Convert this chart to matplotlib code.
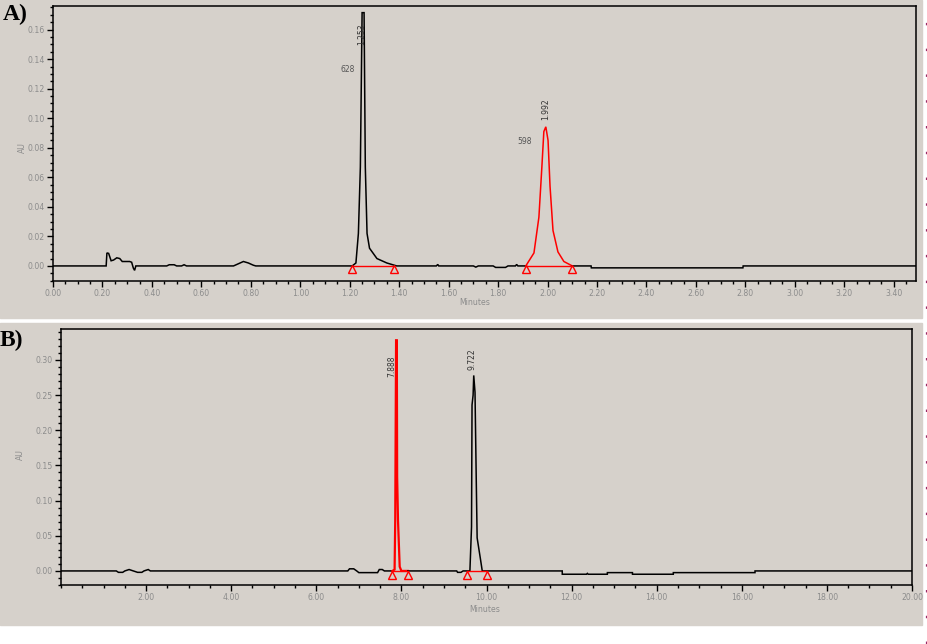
import matplotlib
matplotlib.use("Agg")
import matplotlib.pyplot as plt
from matplotlib.patches import Rectangle
from matplotlib.lines import Line2D
from matplotlib.ticker import MultipleLocator, FixedLocator, FormatStrFormatter

# --- panel A data (time in minutes, absorbance in AU) ---
a_t_black = [0.00, 0.215, 0.218, 0.225, 0.235, 0.245, 0.258, 0.27, 0.28, 0.31, 0.318,
             0.325, 0.33, 0.335, 0.46, 0.47, 0.49, 0.50, 0.52, 0.53, 0.54, 0.73, 0.75,
             0.77, 0.79, 0.81, 0.82, 1.21, 1.225, 1.235, 1.243, 1.25, 1.258, 1.263,
             1.27, 1.28, 1.31, 1.35, 1.39, 1.55, 1.556, 1.56, 1.70, 1.71, 1.72, 1.78,
             1.79, 1.83, 1.84, 1.87, 1.875, 1.88, 1.912]
a_y_black = [0.0, 0.0, 0.0088, 0.0085, 0.0035, 0.004, 0.0055, 0.005, 0.003, 0.003, 0.0025,
             -0.0015, -0.003, 0.0, 0.0, 0.0008, 0.0008, 0.0, 0.0, 0.0008, 0.0, 0.0, 0.0015,
             0.003, 0.002, 0.0005, 0.0, 0.0, 0.002, 0.022, 0.067, 0.1715, 0.1715, 0.067,
             0.022, 0.012, 0.005, 0.002, 0.0, 0.0, 0.001, 0.0, 0.0, -0.0008, 0.0, 0.0,
             -0.001, -0.001, 0.0, 0.0, 0.001, 0.0, 0.0]
a_t_red = [1.912, 1.945, 1.965, 1.977, 1.985, 1.993, 2.002, 2.010, 2.022, 2.042, 2.066, 2.10]
a_y_red = [0.0, 0.0088, 0.033, 0.067, 0.091, 0.0942, 0.085, 0.054, 0.024, 0.0095, 0.003, 0.0]
a_t_tail = [2.10, 2.176, 2.177, 2.79, 2.791, 3.49]
a_y_tail = [0.0, 0.0, -0.0013, -0.0013, 0.0, 0.0]
a_marks = [(1.21, 1.38), (1.912, 2.10)]
a_labels = [(1.192, 0.133, "628", 0), (1.249, 0.157, "1.253", 90),
            (1.993, 0.106, "1.992", 90), (1.906, 0.084, "598", 0)]

# --- panel B data ---
b_t_black = [0.0, 1.3, 1.35, 1.45, 1.5, 1.6, 1.7, 1.8, 1.9, 1.95, 2.05, 2.1, 6.74, 6.78,
             6.88, 6.95, 7.0, 7.44, 7.48, 7.55, 7.6, 7.79]
b_y_black = [0.0, 0.0, -0.002, -0.002, 0.0, 0.002, 0.0, -0.002, -0.002, 0.0, 0.002, 0.0,
             0.0, 0.003, 0.003, 0.0, -0.0024, -0.0024, 0.002, 0.002, 0.0, 0.0]
b_t_red = [7.79, 7.84, 7.855, 7.875, 7.892, 7.90, 7.92, 7.96, 8.0, 8.15]
b_y_red = [0.0, 0.002, 0.072, 0.328, 0.328, 0.134, 0.072, 0.006, 0.0, 0.0]
b_t_tail = [8.15, 9.3, 9.32, 9.4, 9.45, 9.61, 9.648, 9.66, 9.685, 9.70, 9.73, 9.76, 9.78,
            9.86, 9.90, 11.78, 11.781, 12.35, 12.37, 12.39, 12.84, 12.841, 13.43, 13.431,
            14.39, 14.391, 16.31, 16.311, 20.0]
b_y_tail = [0.0, 0.0, -0.002, -0.002, 0.0, 0.0, 0.0625, 0.236, 0.25, 0.278, 0.254, 0.126,
            0.047, 0.016, 0.0, 0.0, -0.0047, -0.0047, -0.0035, -0.0047, -0.0047, -0.0024,
            -0.0024, -0.0047, -0.0047, -0.0024, -0.0024, 0.0, 0.0]
b_marks = [(7.79, 8.15), (9.545, 10.0)]
b_labels = [(7.77, 0.291, "7.888", 90), (9.65, 0.301, "9.722", 90)]

bg = "#d6d1cb"
tick_gray = "#8c8c8c"

fig = plt.figure(figsize=(9.28, 6.44), dpi=100)
fig.patch.set_facecolor("white")

# gray panels behind each chromatogram
fig.patches.append(Rectangle((0, 1 - 318 / 644), 922 / 928, 318 / 644,
                             transform=fig.transFigure, color=bg, zorder=-5))
fig.patches.append(Rectangle((0, 1 - 625 / 644), 922 / 928, 302 / 644,
                             transform=fig.transFigure, color=bg, zorder=-5))
# dotted border on the right
fig.lines.append(Line2D([927 / 928, 927 / 928], [0, 1], transform=fig.transFigure,
                        color="#9a2a66", lw=1.6, dashes=(1.1, 10.5)))

axA = fig.add_axes([53 / 928, 1 - 281 / 644, 863 / 928, 275 / 644])
axB = fig.add_axes([61 / 928, 1 - 585 / 644, 851 / 928, 256 / 644])


def style(ax):
    ax.set_facecolor(bg)
    for s in ax.spines.values():
        s.set_linewidth(1.1)
        s.set_color("black")
    ax.tick_params(which="major", direction="out", length=4, width=1, color="black",
                   labelsize=5.6, labelcolor=tick_gray, pad=2)
    ax.tick_params(which="minor", direction="out", length=2.5, width=1, color="black")
    ax.tick_params(top=False, right=False)


def draw(ax, segs, marks, labels, ymark):
    for t, y, c, lw in segs:
        ax.plot(t, y, color=c, lw=lw, solid_joinstyle="miter")
    for t0, t1 in marks:
        ax.plot([t0, t1], [0, 0], color="red", lw=1.0)
        ax.plot([t0, t1], [ymark, ymark], ls="none", marker="^", ms=5.5,
                mfc="none", mec="red", mew=1.0)
    for t, y, s, rot in labels:
        ax.text(t, y, s, rotation=rot, ha="center", va="center", fontsize=5.5,
                color="#333333" if rot else "#555555")


# panel A
style(axA)
draw(axA, [(a_t_black, a_y_black, "black", 1.1), (a_t_red, a_y_red, "red", 1.1),
           (a_t_tail, a_y_tail, "black", 1.1)], a_marks, a_labels, -0.0018)
axA.set_xlim(0, 3.49)
axA.set_ylim(-0.0102, 0.176)
axA.xaxis.set_major_locator(MultipleLocator(0.2))
axA.xaxis.set_minor_locator(MultipleLocator(0.05))
axA.yaxis.set_major_locator(MultipleLocator(0.02))
axA.yaxis.set_minor_locator(MultipleLocator(0.005))
axA.xaxis.set_major_formatter(FormatStrFormatter("%.2f"))
axA.yaxis.set_major_formatter(FormatStrFormatter("%.2f"))
axA.set_xlabel("Minutes", fontsize=5.6, color=tick_gray)
axA.xaxis.set_label_coords(0.489, -0.062)
axA.set_ylabel("AU", fontsize=5.6, color=tick_gray)
axA.yaxis.set_label_coords(-0.030, 0.484)

# panel B
style(axB)
draw(axB, [(b_t_black, b_y_black, "black", 1.1), (b_t_red, b_y_red, "red", 1.6),
           (b_t_tail, b_y_tail, "black", 1.1)], b_marks, b_labels, -0.006)
axB.set_xlim(0, 20)
axB.set_ylim(-0.020, 0.344)
axB.xaxis.set_major_locator(FixedLocator([2, 4, 6, 8, 10, 12, 14, 16, 18, 20]))
axB.xaxis.set_minor_locator(MultipleLocator(0.5))
axB.yaxis.set_major_locator(MultipleLocator(0.05))
axB.yaxis.set_minor_locator(MultipleLocator(0.01))
axB.xaxis.set_major_formatter(FormatStrFormatter("%.2f"))
axB.yaxis.set_major_formatter(FormatStrFormatter("%.2f"))
axB.set_xlabel("Minutes", fontsize=5.6, color=tick_gray)
axB.xaxis.set_label_coords(0.498, -0.078)
axB.set_ylabel("AU", fontsize=5.6, color=tick_gray)
axB.yaxis.set_label_coords(-0.042, 0.508)

fig.text(3 / 928, 1 - 4 / 644, "A)", fontsize=17, fontweight="bold",
         family="Liberation Serif", va="top", ha="left")
fig.text(0 / 928, 1 - 330 / 644, "B)", fontsize=17, fontweight="bold",
         family="Liberation Serif", va="top", ha="left")

fig.savefig("out.png", dpi=100, facecolor=fig.get_facecolor())
